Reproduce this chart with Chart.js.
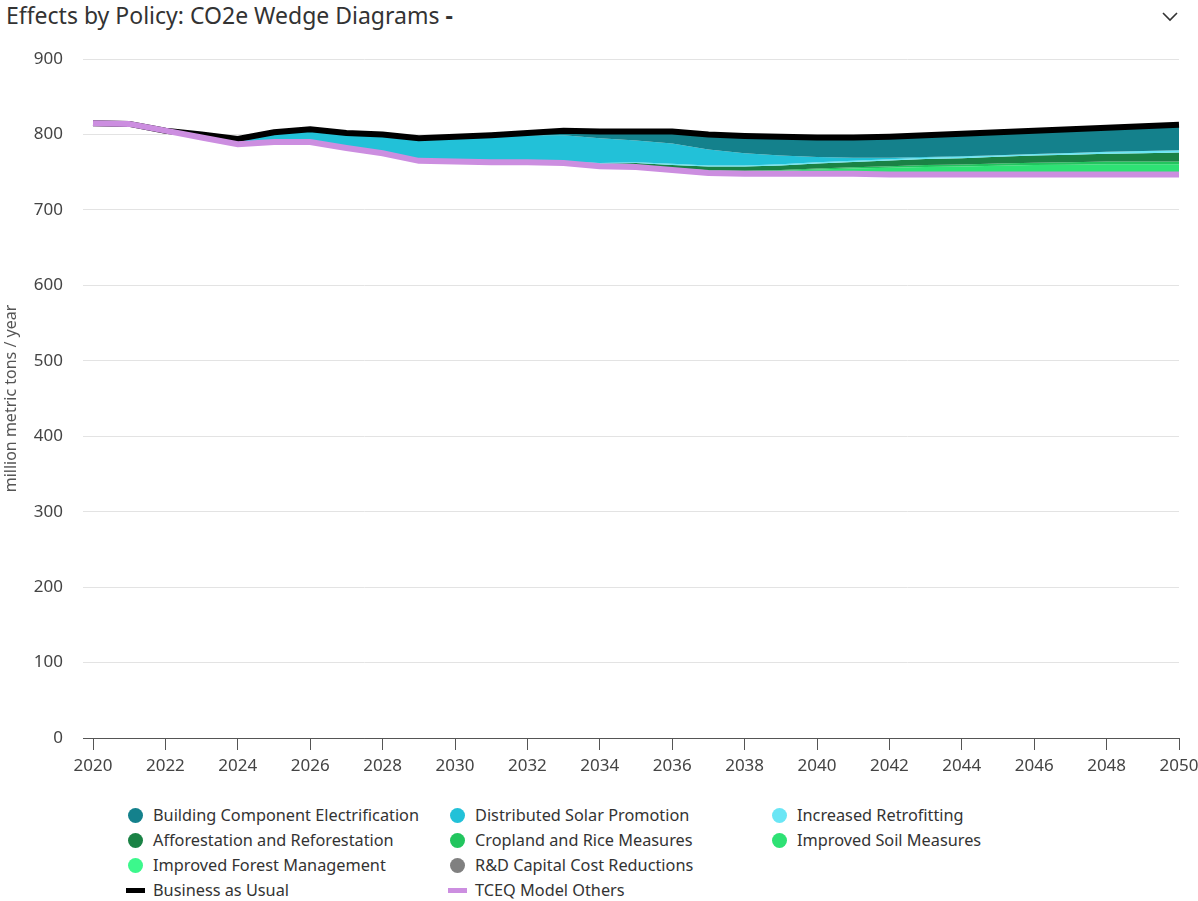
<!DOCTYPE html>
<html>
<head>
<meta charset="utf-8">
<script src="https://cdn.jsdelivr.net/npm/chart.js@4.4.0/dist/chart.umd.min.js"></script>
<style>
  body { margin: 0; background: #fff; font-family: "Noto Sans", sans-serif; }
  #wrap { position: relative; width: 1198px; height: 901px; overflow: hidden; }
  #title { position: absolute; left: 6px; top: -1px; font-size: 23px; color: #333; white-space: nowrap; }
  #title b { font-weight: 700; }
  #chev { position: absolute; left: 1158px; top: 6px; }
  #myChart { position: absolute; left: 0; top: 40px; }
  .item { position: absolute; height: 25px; line-height: 25px; font-size: 16.3px; color: #333; white-space: nowrap; }
  .mark { position: absolute; }
</style>
</head>
<body>
<div id="wrap">
  <div id="title">Effects by Policy: CO2e Wedge Diagrams <b>-</b></div>
  <svg id="chev" width="24" height="20"><polyline points="5,7 12,14 19,7" fill="none" stroke="#333" stroke-width="1.6"/></svg>
  <canvas id="myChart" width="1198" height="750"></canvas>
  <div id="legend"></div>
</div>
<script>
// values in million metric tons CO2e / year
var years = ['2020','2021','2022','2023','2024','2025','2026','2027','2028','2029','2030',
             '2031','2032','2033','2034','2035','2036','2037','2038','2039','2040',
             '2041','2042','2043','2044','2045','2046','2047','2048','2049','2050'];
var yTicks = [0, 100, 200, 300, 400, 500, 600, 700, 800, 900];

var businessAsUsual = [815, 814, 805, 800, 794, 803, 807, 802, 800, 795, 797,
                       799, 802, 805, 804, 804, 804, 800, 798, 797, 796,
                       796, 797, 799, 801, 803, 805, 807, 809, 811, 813];
var tceqOthers = [815, 814, 805, 796, 787, 790, 790, 782, 775, 765, 764,
                  763, 763, 762, 758, 757, 753, 749, 748, 748, 748,
                  748, 747, 747, 747, 747, 747, 747, 747, 747, 747];

// wedges, listed top of the stack first
var buildingElectrification = [0, 0, 0, 0, 0, 0, 0, 0, 0, 0, 0,
                               1, 3, 6, 9, 12, 16, 20, 23, 25, 26,
                               27, 28, 29, 30, 30.5, 31, 31.5, 32, 33, 34];
var distributedSolar = [0, 0, 0, 4, 7, 13, 17, 20, 25, 30, 33,
                        35, 35.5, 35, 33, 29, 27, 21, 16, 11.5, 7,
                        4, 2, 1, 0.5, 0, 0, 0, 0, 0, 0];
var increasedRetrofitting = [0, 0, 0, 0, 0, 0, 0, 0, 0, 0, 0,
                             0, 0, 0.5, 1, 1, 1.5, 1.5, 1.5, 1.5, 1.5,
                             1.5, 1.5, 1.5, 2, 2, 2, 2.5, 2.5, 3, 3];
var afforestation = [0, 0, 0, 0, 0, 0, 0, 0, 0, 0, 0,
                     0, 0.5, 1, 2, 3, 4, 5, 5.5, 6, 6.5,
                     7, 7.5, 8, 8.5, 9, 9.5, 10, 10.5, 11, 12];
var croplandRice = [0, 0, 0, 0, 0, 0, 0, 0, 0, 0, 0,
                    0, 0, 0, 0.2, 0.4, 0.5, 0.7, 0.8, 1, 1.4,
                    1.7, 2.2, 2.5, 2.6, 2.9, 3.1, 3.2, 3.4, 3.4, 3.4];
var improvedSoil = [0, 0, 0, 0, 0, 0, 0, 0, 0, 0, 0,
                    0, 0, 0.5, 0.7, 1.4, 1.7, 2.4, 2.8, 3.5, 4.9,
                    6, 7.7, 8.8, 9.1, 10.2, 10.9, 11.2, 11.9, 11.9, 11.9];
var improvedForest = [0, 0, 0, 0, 0, 0, 0, 0, 0, 0, 0,
                      0, 0, 0, 0.1, 0.2, 0.3, 0.4, 0.4, 0.5, 0.7,
                      0.8, 1.1, 1.2, 1.3, 1.4, 1.5, 1.6, 1.7, 1.7, 1.7];
var rdCostReductions = [0, 0, 0, 0, 0, 0, 0, 0, 0, 0, 0,
                        0, 0, 0, 0, 0, 0, 0, 0, 0, 0,
                        0, 0, 0, 0, 0, 0, 0, 0, 0, 0];

var wedges = [
  { label: 'Building Component Electrification', data: buildingElectrification, color: '#14818c' },
  { label: 'Distributed Solar Promotion', data: distributedSolar, color: '#22c1d8' },
  { label: 'Increased Retrofitting', data: increasedRetrofitting, color: '#6ae6f5' },
  { label: 'Afforestation and Reforestation', data: afforestation, color: '#1a8245' },
  { label: 'Cropland and Rice Measures', data: croplandRice, color: '#22c55e' },
  { label: 'Improved Soil Measures', data: improvedSoil, color: '#2ee174' },
  { label: 'Improved Forest Management', data: improvedForest, color: '#3cf88c' },
  { label: 'R&D Capital Cost Reductions', data: rdCostReductions, color: '#808080' }
];

// stack the wedges on top of the TCEQ line (bottom wedge first)
var running = tceqOthers.slice();
var tops = [];
for (var w = wedges.length - 1; w >= 0; w--) {
  running = running.map(function (v, i) { return v + wedges[w].data[i]; });
  tops[w] = running;
}

var datasets = wedges.map(function (wd, w) {
  return {
    label: wd.label,
    data: tops[w],
    backgroundColor: wd.color,
    borderColor: 'rgba(0,0,0,0)',
    borderWidth: 0,
    pointRadius: 0,
    fill: w === wedges.length - 1 ? wedges.length + 1 : '+1',
    order: 0
  };
});
datasets.push({
  label: 'Business as Usual', data: businessAsUsual,
  borderColor: '#000000', backgroundColor: '#000000',
  borderWidth: 6, pointRadius: 0, fill: false, order: -1, isLine: true
});
datasets.push({
  label: 'TCEQ Model Others', data: tceqOthers,
  borderColor: '#cc8ee0', backgroundColor: '#cc8ee0',
  borderWidth: 6, pointRadius: 0, fill: false, order: -2, isLine: true
});

var ctx = document.getElementById('myChart').getContext('2d');
var myChart = new Chart(ctx, {
  type: 'line',
  data: { labels: years, datasets: datasets },
  options: {
    responsive: false,
    animation: false,
    layout: { padding: { left: 0, right: 19, top: 19, bottom: 0 } },
    elements: { line: { tension: 0 } },
    plugins: { legend: { display: false }, tooltip: { enabled: false } },
    scales: {
      x: {
        grid: { drawOnChartArea: false, drawTicks: true, tickLength: 12, color: '#555' },
        border: { display: true, color: '#555', width: 1 },
        ticks: {
          autoSkip: false, maxRotation: 0, padding: 6, color: '#444',
          font: { family: 'Noto Sans', size: 17 },
          callback: function (v, i) { return i % 2 === 0 ? years[i] : null; }
        },
        afterFit: function (s) { s.height = 52; s.paddingLeft = 0; s.paddingRight = 0; }
      },
      y: {
        min: 0, max: 900,
        afterBuildTicks: function (s) { s.ticks = yTicks.map(function (v) { return { value: v }; }); },
        grid: {
          tickLength: 10,
          color: function (c) { return c.tick && c.tick.value === 0 ? '#555' : '#e3e3e3'; }
        },
        border: { display: false },
        ticks: { padding: 20, color: '#444', font: { family: 'Noto Sans', size: 17 } },
        title: {
          display: true, text: 'million metric tons / year', color: '#555',
          font: { family: 'Noto Sans', size: 16 }, padding: { top: 2, bottom: 0 }
        },
        afterFit: function (s) { s.width = 93; s.paddingTop = 0; s.paddingBottom = 0; }
      }
    }
  }
});

// html legend in a 3 column grid
var legend = document.getElementById('legend');
datasets.forEach(function (ds, i) {
  var r = i < 8 ? Math.floor(i / 3) : 3;
  var c = i < 8 ? i % 3 : i - 8;
  var cx = 135 + 322 * c, cy = 815 + 25 * r;
  var item = document.createElement('div');
  item.className = 'item';
  item.style.left = (cx + 18) + 'px';
  item.style.top = (cy - 12.5) + 'px';
  item.textContent = ds.label;
  var mark = document.createElement('div');
  mark.className = 'mark';
  if (ds.isLine) {
    mark.style.cssText = 'left:' + (cx - 9) + 'px;top:' + (cy - 2.5) + 'px;width:19px;height:5px;background:' + ds.borderColor;
  } else {
    mark.style.cssText = 'left:' + (cx - 7.5) + 'px;top:' + (cy - 7.5) + 'px;width:15px;height:15px;border-radius:50%;background:' + ds.backgroundColor;
  }
  legend.appendChild(mark);
  legend.appendChild(item);
});
</script>
</body>
</html>
